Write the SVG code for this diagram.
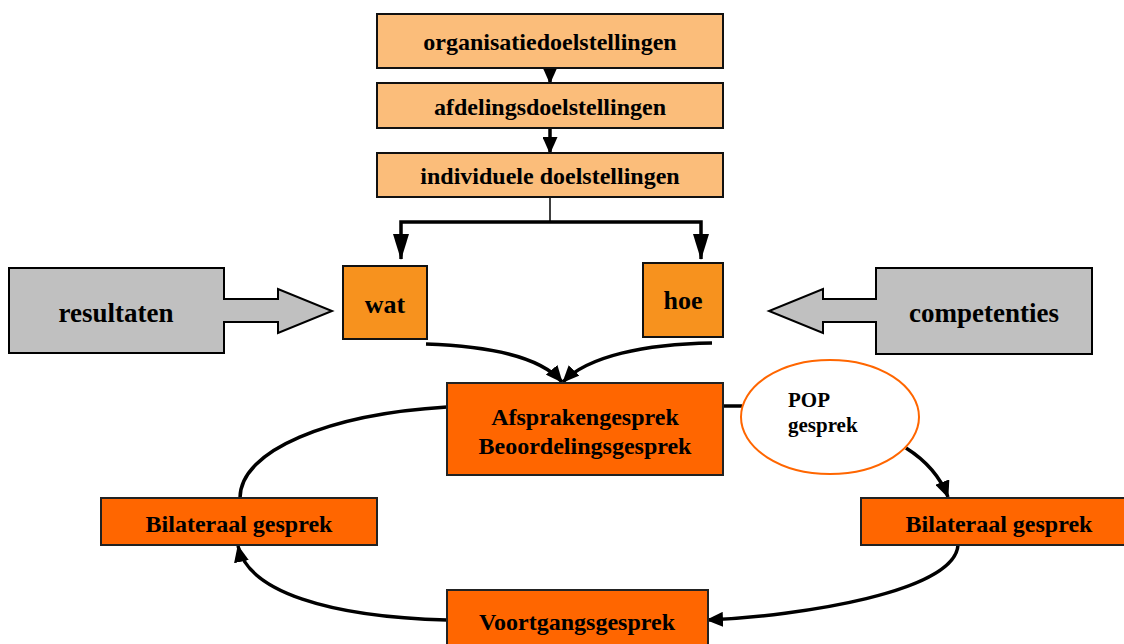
<svg xmlns="http://www.w3.org/2000/svg" width="1124" height="644" viewBox="0 0 1124 644">
<defs>
<marker id="ah" viewBox="0 0 17 15" markerWidth="17" markerHeight="15" refX="16" refY="7.5" orient="auto" markerUnits="userSpaceOnUse">
<path d="M0,0 L17,7.5 L0,15 z" fill="#000"/>
</marker>
<marker id="ahl" viewBox="0 0 26 16" markerWidth="26" markerHeight="16" refX="25" refY="8" orient="auto" markerUnits="userSpaceOnUse">
<path d="M0,0 L26,8 L0,16 z" fill="#000"/>
</marker>
<style>
.t{font-family:"Liberation Serif","Times New Roman",serif;font-weight:bold;fill:#000;text-anchor:middle}
.light{fill:#FBBD7A;stroke:#111;stroke-width:2}
.mid{fill:#F7921E;stroke:#111;stroke-width:2}
.dark{fill:#FF6600;stroke:#222;stroke-width:2}
.gray{fill:#C0C0C0;stroke:#000;stroke-width:2}
.c{fill:none;stroke:#000;stroke-width:3.5}
</style>
</defs>
<g id="connectors">
<path class="c" d="M550,66 L550,83" marker-end="url(#ah)"/>
<path class="c" d="M550,128 L550,153" marker-end="url(#ah)"/>
<path d="M550,197 L550,222" fill="none" stroke="#000" stroke-width="1.5"/>
<path class="c" d="M550,222 L701,222 L701,259" marker-end="url(#ahl)"/>
<path class="c" d="M550,222 L401,222 L401,259" marker-end="url(#ahl)"/>
<path class="c" d="M426,344 C485,346 540,356 562,382" marker-end="url(#ah)"/>
<path class="c" d="M712,343 C645,344 588,356 563,382" marker-end="url(#ah)"/>
<path class="c" d="M447,407 C330,414 240,450 240,498"/>
<path class="c" d="M447,620 C330,617 248,592 238,546" marker-end="url(#ah)"/>
<path class="c" d="M723,406 L742,406"/>
<path class="c" d="M906,448 C925,460 940,476 948,497" marker-end="url(#ah)"/>
<path class="c" d="M958,545 C955,592 800,616 707,620" marker-end="url(#ah)"/>
</g>
<g id="organisatiedoelstellingen">
<rect class="light" x="377" y="14" width="346" height="54"/>
<text class="t" x="550" y="50" font-size="24">organisatiedoelstellingen</text>
</g>
<g id="afdelingsdoelstellingen">
<rect class="light" x="377" y="83" width="346" height="45"/>
<text class="t" x="550" y="115" font-size="24">afdelingsdoelstellingen</text>
</g>
<g id="individuele">
<rect class="light" x="377" y="153" width="346" height="44"/>
<text class="t" x="550" y="184" font-size="24">individuele doelstellingen</text>
</g>
<g id="resultaten">
<path class="gray" d="M9,268 L224,268 L224,299 L278,299 L278,289 L332,311 L278,333 L278,322 L224,322 L224,353 L9,353 Z"/>
<text class="t" x="116" y="322" font-size="27">resultaten</text>
</g>
<g id="competenties">
<path class="gray" d="M1092,268 L876,268 L876,299 L823,299 L823,289 L769,311 L823,333 L823,322 L876,322 L876,354 L1092,354 Z"/>
<text class="t" x="984" y="322" font-size="27">competenties</text>
</g>
<g id="wat">
<rect class="mid" x="343" y="266" width="84" height="73"/>
<text class="t" x="385" y="313" font-size="26">wat</text>
</g>
<g id="hoe">
<rect class="mid" x="643" y="263" width="80" height="74"/>
<text class="t" x="683" y="309" font-size="26">hoe</text>
</g>
<g id="afspraken">
<rect class="dark" x="447" y="383" width="276" height="92"/>
<text class="t" x="585" y="425" font-size="24">Afsprakengesprek</text>
<text class="t" x="585" y="454" font-size="24">Beoordelingsgesprek</text>
</g>
<g id="pop">
<ellipse cx="830" cy="417" rx="89" ry="57" fill="#fff" stroke="#FF6600" stroke-width="2"/>
<text class="t" x="788" y="407" font-size="21" style="text-anchor:start">POP</text>
<text class="t" x="788" y="432" font-size="21" style="text-anchor:start">gesprek</text>
</g>
<g id="bilateraal-links">
<rect class="dark" x="101" y="498" width="276" height="47"/>
<text class="t" x="239" y="532" font-size="24">Bilateraal gesprek</text>
</g>
<g id="bilateraal-rechts">
<rect class="dark" x="861" y="498" width="276" height="47"/>
<text class="t" x="999" y="532" font-size="24">Bilateraal gesprek</text>
</g>
<g id="voortgang">
<rect class="dark" x="447" y="590" width="261" height="70"/>
<text class="t" x="577" y="630" font-size="24">Voortgangsgesprek</text>
</g>
</svg>
